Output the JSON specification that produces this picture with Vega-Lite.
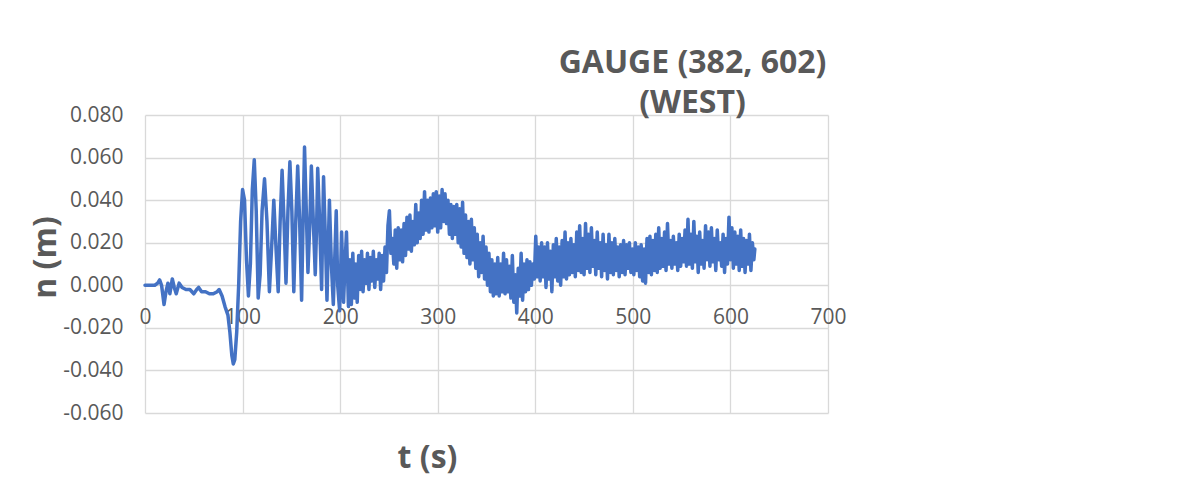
{
 "$schema": "https://vega.github.io/schema/vega-lite/v6.json",
 "width": 683,
 "height": 298,
 "autosize": {"type": "none"},
 "padding": {"left": 145, "top": 115, "right": 350, "bottom": 67},
 "background": "white",
 "title": {"text": ["GAUGE (382, 602)", "(WEST)"], "anchor": "middle", "dx": 206, "fontSize": 32, "font": "Open Sans", "fontWeight": "bold", "color": "#595959", "lineHeight": 40, "baseline": "bottom", "offset": -48},
 "data": {"values": [
{"t":0,"n":0},{"t":5,"n":0},{"t":10,"n":0},{"t":13,"n":0.001},{"t":15,"n":0.0025},{"t":17,"n":0},{"t":19.5,"n":-0.009},{"t":21.5,"n":-0.003},{"t":23.5,"n":0.001},{"t":25.5,"n":-0.004},{"t":28,"n":0.003},{"t":30,"n":-0.001},{"t":32,"n":-0.004},{"t":35,"n":0.001},{"t":38,"n":-0.001},{"t":42,"n":-0.002},{"t":46,"n":-0.002},{"t":50,"n":-0.004},{"t":53,"n":-0.002},{"t":55,"n":-0.001},{"t":58,"n":-0.003},{"t":62,"n":-0.003},{"t":66,"n":-0.004},{"t":70,"n":-0.004},{"t":74,"n":-0.003},{"t":76,"n":-0.002},{"t":79,"n":-0.005},{"t":82,"n":-0.010},{"t":85,"n":-0.014},{"t":87,"n":-0.022},{"t":89,"n":-0.033},{"t":90.5,"n":-0.037},{"t":92,"n":-0.035},{"t":94,"n":-0.022},{"t":96,"n":0.0},{"t":98,"n":0.030},{"t":100,"n":0.045},{"t":102,"n":0.040},{"t":104,"n":0.012},{"t":106,"n":-0.005},{"t":108,"n":0.010},{"t":110,"n":0.045},{"t":112,"n":0.059},{"t":114,"n":0.035},{"t":116,"n":-0.006},{"t":118,"n":0.005},{"t":120,"n":0.035},{"t":122.5,"n":0.050},{"t":125,"n":0.030},{"t":127.5,"n":-0.003},{"t":130,"n":0.020},{"t":132,"n":0.040},{"t":134,"n":0.020},{"t":136.5,"n":-0.003},{"t":138.5,"n":0.030},{"t":140.5,"n":0.054},{"t":142.5,"n":0.030},{"t":144.5,"n":0.001},{"t":146.5,"n":0.035},{"t":148.5,"n":0.058},{"t":150.5,"n":0.035},{"t":152.5,"n":-0.003},{"t":154.5,"n":0.030},{"t":156.5,"n":0.056},{"t":158.5,"n":0.030},{"t":160.5,"n":-0.007},{"t":162,"n":0.030},{"t":163.5,"n":0.065},{"t":165,"n":0.040},{"t":167,"n":0.006},{"t":169,"n":0.030},{"t":170.5,"n":0.056},{"t":172.5,"n":0.030},{"t":174.5,"n":0.005},{"t":176,"n":0.030},{"t":177,"n":0.055},{"t":179,"n":0.030},{"t":181,"n":-0.002},{"t":183,"n":0.051},{"t":185,"n":0.020},{"t":186.5,"n":-0.007},{"t":189,"n":0.040},{"t":191,"n":0.010},{"t":193,"n":-0.009},{"t":196,"n":0.035},{"t":197.5,"n":0.0},{"t":199.5,"n":-0.012},{"t":201.5,"n":0.025},{"t":203.5,"n":-0.008},{"t":205,"n":0.010},{"t":206.5,"n":0.025},{"t":208.5,"n":-0.010},
{"t":210,"n":0.012},{"t":211.5,"n":-0.009},{"t":213,"n":0.015},{"t":214.5,"n":-0.006},{"t":216,"n":0.010},{"t":217.5,"n":-0.008},{"t":219,"n":0.014},{"t":220.5,"n":-0.002},{"t":222,"n":0.016},{"t":223.5,"n":-0.003},{"t":225,"n":0.012},{"t":226.5,"n":0.001},{"t":228,"n":0.015},{"t":229.5,"n":-0.002},{"t":231,"n":0.013},{"t":232.5,"n":0.002},{"t":234,"n":0.016},{"t":235.5,"n":-0.001},{"t":237,"n":0.012},{"t":238.5,"n":0.003},{"t":240,"n":0.015},{"t":241.5,"n":-0.002},{"t":243,"n":0.014},{"t":244.5,"n":0.002},{"t":246,"n":0.018},{"t":247.5,"n":0.006},{"t":249,"n":0.028},{"t":250.5,"n":0.035},{"t":252,"n":0.015},{"t":253.5,"n":0.022},{"t":255,"n":0.010},{"t":256.5,"n":0.026},{"t":258,"n":0.008},{"t":259.5,"n":0.027},{"t":261,"n":0.012},{"t":262.5,"n":0.026},{"t":264,"n":0.011},{"t":265.5,"n":0.029},{"t":267,"n":0.014},{"t":268.5,"n":0.032},{"t":270,"n":0.017},{"t":271.5,"n":0.033},{"t":273,"n":0.016},{"t":274.5,"n":0.030},{"t":276,"n":0.019},{"t":277.5,"n":0.038},{"t":279,"n":0.020},{"t":280.5,"n":0.034},{"t":282,"n":0.022},{"t":283.5,"n":0.040},{"t":285,"n":0.024},{"t":286.5,"n":0.044},{"t":288,"n":0.026},{"t":289.5,"n":0.040},{"t":291,"n":0.025},{"t":292.5,"n":0.041},{"t":294,"n":0.027},{"t":295.5,"n":0.043},{"t":297,"n":0.028},{"t":298.5,"n":0.044},{"t":300,"n":0.025},{"t":301.5,"n":0.042},{"t":303,"n":0.027},{"t":304.5,"n":0.045},{"t":306,"n":0.030},{"t":307.5,"n":0.043},{"t":309,"n":0.029},{"t":310.5,"n":0.040},{"t":312,"n":0.024},{"t":313.5,"n":0.038},{"t":315,"n":0.022},{"t":316.5,"n":0.037},{"t":318,"n":0.024},{"t":319.5,"n":0.038},{"t":321,"n":0.020},{"t":322.5,"n":0.036},{"t":324,"n":0.018},{"t":325.5,"n":0.039},{"t":327,"n":0.015},{"t":328.5,"n":0.033},{"t":330,"n":0.013},{"t":331.5,"n":0.030},{"t":333,"n":0.010},{"t":334.5,"n":0.031},{"t":336,"n":0.012},{"t":337.5,"n":0.027},{"t":339,"n":0.008},{"t":340.5,"n":0.024},{"t":342,"n":0.004},{"t":343.5,"n":0.020},{"t":345,"n":0.006},{"t":346.5,"n":0.023},{"t":348,"n":0.003},{"t":349.5,"n":0.018},{"t":351,"n":0.000},{"t":352.5,"n":0.015},{"t":354,"n":-0.003},{"t":355.5,"n":0.012},{"t":357,"n":-0.005},{"t":358.5,"n":0.010},{"t":360,"n":-0.004},{"t":361.5,"n":0.013},{"t":363,"n":-0.005},{"t":364.5,"n":0.010},{"t":366,"n":-0.003},{"t":367.5,"n":0.015},{"t":369,"n":-0.004},{"t":370.5,"n":0.012},{"t":372,"n":-0.003},{"t":373.5,"n":0.009},{"t":375,"n":-0.006},{"t":376.5,"n":0.014},{"t":378,"n":-0.008},{"t":379.5,"n":0.005},{"t":381,"n":-0.013},{"t":382.5,"n":0.008},{"t":384,"n":-0.005},{"t":385.5,"n":0.015},{"t":387,"n":-0.007},{"t":388.5,"n":0.010},{"t":390,"n":-0.003},{"t":391.5,"n":0.012},{"t":393,"n":-0.002},{"t":394.5,"n":0.011},{"t":396,"n":0.000},{"t":397.5,"n":0.010},{"t":399,"n":0.003},{"t":400.5,"n":0.023},{"t":402,"n":0.004},{"t":403.5,"n":0.018},{"t":405,"n":0.002},{"t":406.5,"n":0.020},{"t":408,"n":0.004},{"t":409.5,"n":0.018},{"t":411,"n":-0.001},{"t":412.5,"n":0.020},{"t":414,"n":0.003},{"t":415.5,"n":0.016},{"t":417,"n":-0.003},{"t":418.5,"n":0.019},{"t":420,"n":0.004},{"t":421.5,"n":0.022},{"t":423,"n":0.002},{"t":424.5,"n":0.018},{"t":426,"n":0.000},{"t":427.5,"n":0.021},{"t":429,"n":0.004},{"t":430.5,"n":0.025},{"t":432,"n":0.003},{"t":433.5,"n":0.020},{"t":435,"n":0.005},{"t":436.5,"n":0.022},{"t":438,"n":0.006},{"t":439.5,"n":0.019},{"t":441,"n":0.004},{"t":442.5,"n":0.025},{"t":444,"n":0.007},{"t":445.5,"n":0.028},{"t":447,"n":0.006},{"t":448.5,"n":0.022},{"t":450,"n":0.005},{"t":451.5,"n":0.029},{"t":453,"n":0.008},{"t":454.5,"n":0.024},{"t":456,"n":0.006},{"t":457.5,"n":0.027},{"t":459,"n":0.009},{"t":460.5,"n":0.021},{"t":462,"n":0.005},{"t":463.5,"n":0.025},{"t":465,"n":0.008},{"t":466.5,"n":0.020},{"t":468,"n":0.004},{"t":469.5,"n":0.024},{"t":471,"n":0.007},{"t":472.5,"n":0.019},{"t":474,"n":0.003},{"t":475.5,"n":0.024},{"t":477,"n":0.006},{"t":478.5,"n":0.020},{"t":480,"n":0.005},{"t":481.5,"n":0.022},{"t":483,"n":0.007},{"t":484.5,"n":0.018},{"t":486,"n":0.004},{"t":487.5,"n":0.019},{"t":489,"n":0.006},{"t":490.5,"n":0.021},{"t":492,"n":0.005},{"t":493.5,"n":0.019},{"t":495,"n":0.008},{"t":496.5,"n":0.020},{"t":498,"n":0.006},{"t":499.5,"n":0.017},{"t":501,"n":0.005},{"t":502.5,"n":0.020},{"t":504,"n":0.007},{"t":505.5,"n":0.018},{"t":507,"n":0.004},{"t":508.5,"n":0.019},{"t":510,"n":0.002},{"t":511.5,"n":0.017},{"t":513,"n":0.001},{"t":514.5,"n":0.022},{"t":516,"n":0.006},{"t":517.5,"n":0.023},{"t":519,"n":0.005},{"t":520.5,"n":0.021},{"t":522,"n":0.007},{"t":523.5,"n":0.024},{"t":525,"n":0.006},{"t":526.5,"n":0.027},{"t":528,"n":0.008},{"t":529.5,"n":0.022},{"t":531,"n":0.009},{"t":532.5,"n":0.025},{"t":534,"n":0.007},{"t":535.5,"n":0.029},{"t":537,"n":0.010},{"t":538.5,"n":0.021},{"t":540,"n":0.008},{"t":541.5,"n":0.023},{"t":543,"n":0.010},{"t":544.5,"n":0.020},{"t":546,"n":0.007},{"t":547.5,"n":0.024},{"t":549,"n":0.009},{"t":550.5,"n":0.022},{"t":552,"n":0.011},{"t":553.5,"n":0.026},{"t":555,"n":0.009},{"t":556.5,"n":0.031},{"t":558,"n":0.010},{"t":559.5,"n":0.024},{"t":561,"n":0.008},{"t":562.5,"n":0.030},{"t":564,"n":0.011},{"t":565.5,"n":0.023},{"t":567,"n":0.006},{"t":568.5,"n":0.025},{"t":570,"n":0.010},{"t":571.5,"n":0.021},{"t":573,"n":0.008},{"t":574.5,"n":0.028},{"t":576,"n":0.012},{"t":577.5,"n":0.025},{"t":579,"n":0.009},{"t":580.5,"n":0.027},{"t":582,"n":0.011},{"t":583.5,"n":0.022},{"t":585,"n":0.007},{"t":586.5,"n":0.026},{"t":588,"n":0.012},{"t":589.5,"n":0.020},{"t":591,"n":0.009},{"t":592.5,"n":0.024},{"t":594,"n":0.006},{"t":595.5,"n":0.022},{"t":597,"n":0.010},{"t":598.5,"n":0.032},{"t":600,"n":0.012},{"t":601.5,"n":0.027},{"t":603,"n":0.008},{"t":604.5,"n":0.025},{"t":606,"n":0.010},{"t":607.5,"n":0.023},{"t":609,"n":0.007},{"t":610.5,"n":0.026},{"t":612,"n":0.009},{"t":613.5,"n":0.022},{"t":615,"n":0.006},{"t":616.5,"n":0.021},{"t":618,"n":0.010},{"t":619.5,"n":0.024},{"t":621,"n":0.007},{"t":622.5,"n":0.020},{"t":624,"n":0.012},{"t":625,"n":0.017}
 ]},
 "mark": {"type": "line", "color": "#4472C4", "strokeWidth": 3.5, "strokeJoin": "round", "strokeCap": "round"},
 "encoding": {
  "x": {"field": "t", "type": "quantitative",
   "scale": {"domain": [0, 700], "nice": false, "zero": false},
   "axis": {"values": [0, 100, 200, 300, 400, 500, 600, 700], "offset": -127, "domain": false, "ticks": false,
    "grid": true, "gridColor": "#d9d9d9", "gridWidth": 1.3,
    "labelFont": "Open Sans", "labelFontSize": 21, "labelColor": "#595959", "labelPadding": 20, "labelFlush": false,
    "title": "t (s)", "titleFont": "Open Sans", "titleFontSize": 32, "titleFontWeight": "bold", "titleColor": "#595959",
    "titleX": 282, "titleY": 181, "titleAlign": "center", "titleBaseline": "alphabetic"}},
  "y": {"field": "n", "type": "quantitative",
   "scale": {"domain": [-0.06, 0.08], "nice": false, "zero": false},
   "axis": {"values": [-0.06, -0.04, -0.02, 0, 0.02, 0.04, 0.06, 0.08], "domain": false, "ticks": false,
    "grid": true, "gridColor": "#d9d9d9", "gridWidth": 1.3,
    "labelExpr": "replace(format(datum.value, '.3f'), '\u2212', '-')",
    "labelFont": "Open Sans", "labelFontSize": 21, "labelColor": "#595959", "labelPadding": 22,
    "title": "n (m)", "titleFont": "Open Sans", "titleFontSize": 32, "titleFontWeight": "bold", "titleColor": "#595959",
    "titleX": -100, "titleY": 142, "titleAngle": 270, "titleAlign": "center", "titleBaseline": "middle"}}
 },
 "config": {"view": {"stroke": null}}
}
